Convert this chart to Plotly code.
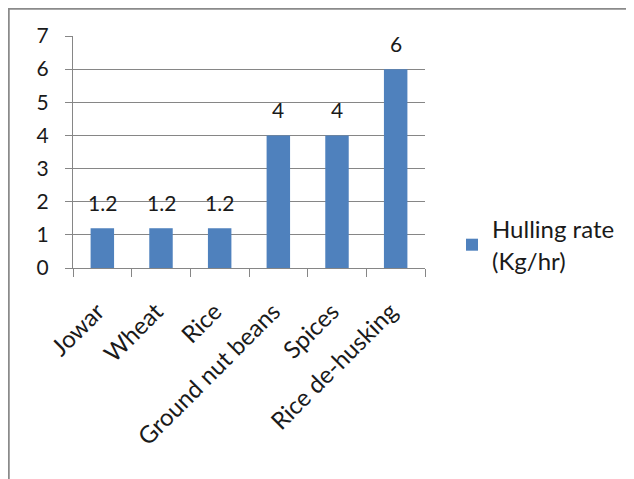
import plotly.graph_objects as go

categories = ["Jowar", "Wheat", "Rice", "Ground nut beans", "Spices", "Rice de-husking"]
hulling_rate = [1.2, 1.2, 1.2, 4, 4, 6]
series_name = "Hulling rate<br>(Kg/hr)"
y_ticks = [0, 1, 2, 3, 4, 5, 6, 7]

FONT = "Lato, 'Open Sans', sans-serif"
OFF = 8  # page body margin in the screenshot
W, H = 634 - OFF, 479 - OFF
# plot-area edges in screenshot pixels
SL, SR, ST, SB = 73, 425, 36, 268
L, R, T, B = SL - OFF, SR - OFF, ST - OFF, SB - OFF

fig = go.Figure()
fig.add_trace(go.Bar(
    x=categories, y=hulling_rate, name=series_name,
    marker=dict(color="#4f81bd", line=dict(width=0)),
    width=0.4, showlegend=True,
))

for c, v in zip(categories, hulling_rate):
    fig.add_annotation(
        x=c, y=v, text=f"{v:g}", showarrow=False, yanchor="middle",
        yshift=26, font=dict(size=21, color="#1a1a1a", family=FONT),
    )

def px_x(s):
    return (s - SL) / (SR - SL)

def px_y(s):
    return (SB - s) / (SB - ST)

fig.update_layout(
    width=W, height=H,
    margin=dict(l=L, r=W - R, t=T, b=H - B, autoexpand=False),
    paper_bgcolor="white", plot_bgcolor="white",
    font=dict(family=FONT, size=21, color="#1a1a1a"),
    bargap=0.6,
    xaxis=dict(
        type="category", tickangle=-45, ticks="outside", tickson="boundaries",
        ticklen=8, tickcolor="#868686", showline=True, linecolor="#868686",
        linewidth=1, showgrid=False, tickfont=dict(size=24, family=FONT),
        automargin=False, ticklabelstandoff=19, ticklabelshift=-5,
    ),
    yaxis=dict(
        range=[0, 7], tickvals=y_ticks, ticks="outside", ticklen=7,
        tickcolor="#868686", showline=True, linecolor="#868686", linewidth=1,
        showgrid=True, gridcolor="#868686", gridwidth=1, zeroline=False,
        tickfont=dict(size=21, family=FONT), ticklabelstandoff=12,
        automargin=False,
    ),
    legend=dict(
        x=px_x(452), y=px_y(207), xanchor="left", yanchor="top",
        font=dict(size=24, family=FONT), bgcolor="rgba(0,0,0,0)",
        itemwidth=30,
    ),
    shapes=[dict(
        type="rect", xref="paper", yref="paper",
        x0=px_x(OFF + 0.5), x1=px_x(700), y0=px_y(OFF + 0.5), y1=px_y(700),
        line=dict(color="#8a8a8a", width=2.5), fillcolor="rgba(0,0,0,0)",
        layer="below",
    )],
)

fig.write_html("out.html")
